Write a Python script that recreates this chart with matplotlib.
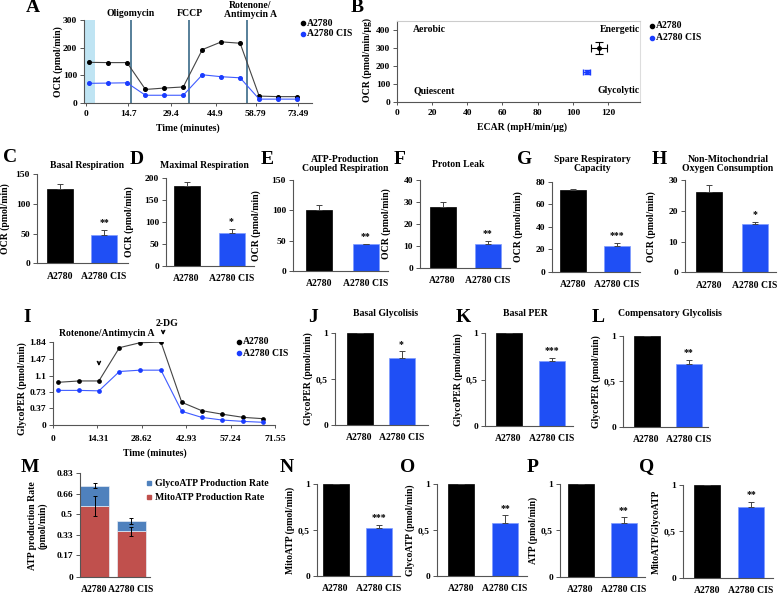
import matplotlib
matplotlib.use('Agg')
import matplotlib.pyplot as plt
from matplotlib.lines import Line2D

plt.rcParams['font.family'] = ['Liberation Serif', 'DejaVu Serif']
plt.rcParams['font.weight'] = 'bold'
plt.rcParams['axes.labelweight'] = 'bold'
plt.rcParams['font.size'] = 7

BLACK = '#000000'
BLUE = '#1F4FF5'
MITO_RED = '#C0504D'
GLYCO_BLUE = '#4F81BD'

# ---- data ----
groups = ['A2780', 'A2780 CIS']

# A: OCR time course
time_ocr = [1.0, 7.6, 14.2, 20.6, 27.1, 33.7, 40.3, 46.9, 53.4, 60.0, 66.6, 73.2]
ocr_a2780 = [147, 146, 146, 49, 54, 58, 193, 221, 216, 25, 23, 23]
ocr_cis = [71, 72, 73, 28, 28, 28, 102, 95, 91, 14, 14, 14]
ocr_injections = [15.6, 35.7, 55.8]
ocr_xticks = [0, 14.7, 29.4, 44.9, 58.79, 73.49]

# B: energy map
ecar_mean = [115, 108]
ecar_err = [4.7, 2.0]
ocr_norm_mean = [300, 168]
ocr_norm_err = [36, 10]

# C-H: mito stress parameters (A2780, A2780 CIS)
basal_resp = [126, 48]
basal_resp_err = [7, 8]
maximal_resp = [181, 75]
maximal_resp_err = [10, 10]
atp_coupled = [100, 44]
atp_coupled_err = [8, 1]
proton_leak = [27.5, 10.8]
proton_leak_err = [2.5, 1.5]
spare_capacity = [72.5, 23]
spare_capacity_err = [1, 3]
non_mito = [26.2, 15.7]
non_mito_err = [2.2, 0.6]

# I: GlycoPER time course
time_per = [1.7, 8.4, 14.8, 21.4, 28.0, 34.8, 41.5, 47.9, 54.6, 61.3, 67.8]
per_a2780 = [0.95, 0.98, 0.98, 1.72, 1.83, 1.845, 0.505, 0.32, 0.24, 0.17, 0.14]
per_cis = [0.77, 0.77, 0.76, 1.19, 1.22, 1.22, 0.305, 0.17, 0.11, 0.08, 0.06]
per_xticks = [0, 14.31, 28.62, 42.93, 57.24, 71.55]
per_yticks = [0, 0.37, 0.73, 1.1, 1.47, 1.84]

# J-L: normalised glycolysis
basal_glyco = [1, 0.73]
basal_glyco_err = [0, 0.07]
basal_per = [1, 0.70]
basal_per_err = [0, 0.03]
comp_glyco = [1, 0.69]
comp_glyco_err = [0, 0.045]

# M: ATP production rate
mito_atp_rate = [0.564, 0.362]
mito_atp_err = [0.08, 0.035]
glyco_atp_rate = [0.16, 0.083]
total_atp_err = [0.02, 0.027]
atp_yticks = [0, 0.17, 0.33, 0.5, 0.66, 0.83]

# N-Q: normalised ATP
mitoatp_norm = [1, 0.52]
mitoatp_norm_err = [0, 0.035]
glycoatp_norm = [1, 0.58]
glycoatp_norm_err = [0, 0.08]
atp_norm = [1, 0.575]
atp_norm_err = [0, 0.065]
ratio_norm = [1, 0.767]
ratio_norm_err = [0, 0.05]

# ---- layout helpers (pixel coordinates of the 778x594 canvas) ----
W, H = 778, 594
fig = plt.figure(figsize=(W / 100, H / 100), dpi=100)


def px_axes(l, t, r, b):
    return fig.add_axes([l / W, 1 - b / H, (r - l) / W, (b - t) / H])


def ftext(x, y, s, **kw):
    kw.setdefault('ha', 'center')
    kw.setdefault('va', 'center')
    fig.text(x / W, 1 - y / H, s, **kw)


def letter(x, y, s):
    ftext(x, y, s, fontsize=14)


def style(ax):
    for side in ['top', 'right']:
        ax.spines[side].set_visible(False)
    for side in ['left', 'bottom']:
        ax.spines[side].set_color('#555555')
        ax.spines[side].set_linewidth(0.8)
    ax.tick_params(axis='y', length=3, width=0.7, pad=2, labelsize=6.8, color='#555555')


def dot_legend(x, y, labels, colors, dy=11, fs=7):
    for i, (lab, c) in enumerate(zip(labels, colors)):
        fig.add_artist(Line2D([x / W], [1 - (y + i * dy) / H], marker='o', ms=3,
                              color=c, transform=fig.transFigure))
        ftext(x + 4, y + i * dy, lab, ha='left', fontsize=fs)


def bar_panel(spine, c1, c2, end, top, base, vals, errs, stars, ymax, yticks,
              yticklabels, ylabel, ylab_off=32, bar_px=26):
    ax = px_axes(spine, top, end, base)
    step = c2 - c1
    ax.set_xlim(-(c1 - spine) / step, 1 + (end - c2) / step)
    ax.set_ylim(0, ymax)
    ax.bar([0, 1], vals, width=bar_px / step, color=[BLACK, BLUE],
           edgecolor=[BLACK, '#7F9BFF'], linewidth=0.5)
    ax.errorbar([0, 1], vals, yerr=[[0, 0], errs], fmt='none', ecolor='#444444',
                elinewidth=0.7, capsize=2, capthick=0.7)
    ax.annotate(stars, (1, vals[1] + errs[1]), xytext=(0, 2), textcoords='offset points',
                ha='center', va='bottom', fontsize=7)
    style(ax)
    ax.set_xticks([0, 1])
    ax.set_xticklabels(groups, fontsize=7)
    ax.tick_params(axis='x', length=0, pad=6)
    ax.set_yticks(yticks)
    ax.set_yticklabels(yticklabels)
    ax.set_ylabel(ylabel, fontsize=7)
    ax.yaxis.set_label_coords(-ylab_off / (end - spine), 0.5)
    return ax


# ---- A ----
axA = px_axes(84, 20, 312, 103)
axA.set_xlim(-0.69, 78.3)
axA.set_ylim(0, 300)
axA.axvspan(-0.69, 3.1, color='#BFE4F3', lw=0)
for t in ocr_injections:
    axA.axvline(t, color='#3A6A88', lw=1.2)
axA.plot(time_ocr, ocr_a2780, color='#444444', lw=0.8, marker='o', ms=2.6, mfc=BLACK, mec=BLACK)
axA.plot(time_ocr, ocr_cis, color='#3F5BFF', lw=0.8, marker='o', ms=2.6, mfc='#1A3CFF', mec='#1A3CFF')
style(axA)
axA.set_yticks([0, 100, 200, 300])
axA.set_xticks(ocr_xticks)
axA.set_xticklabels([str(v) for v in ocr_xticks])
axA.tick_params(axis='x', length=2, width=0.7, labelsize=6.8, pad=3, color='#555555')
letter(33, 7, 'A')
ftext(131, 13, 'Oligomycin', fontsize=7)
ftext(190, 13, 'FCCP', fontsize=7)
ftext(250, 10, 'Rotenone/\nAntimycin A', fontsize=7, linespacing=1.0)
ftext(58, 62, 'OCR (pmol/min)', rotation=90, fontsize=7)
ftext(188, 128, 'Time (minutes)', fontsize=7)
dot_legend(303, 23, groups, [BLACK, '#1A3CFF'])

# ---- B ----
axB = px_axes(397, 21, 640, 102)
axB.set_xlim(0, 138.2)
axB.set_ylim(0, 450)
axB.errorbar(ecar_mean[0], ocr_norm_mean[0], xerr=ecar_err[0], yerr=ocr_norm_err[0], fmt='o',
             color=BLACK, ms=2.5, capsize=3, elinewidth=0.8, capthick=0.8)
axB.errorbar(ecar_mean[1], ocr_norm_mean[1], xerr=ecar_err[1], yerr=ocr_norm_err[1], fmt='o',
             color='#1A3CFF', ms=2.5, capsize=2, elinewidth=1.0, capthick=1.0)
style(axB)
axB.spines['top'].set_visible(True)
axB.spines['top'].set_color('#CCCCCC')
axB.spines['right'].set_visible(True)
axB.spines['right'].set_color('#DDDDDD')
axB.set_xticks(range(0, 140, 20))
axB.set_yticks(range(0, 500, 100))
axB.tick_params(axis='x', length=2, width=0.7, labelsize=6.8, pad=3, color='#555555')
axB.text(0.066, 0.90, 'Aerobic', transform=axB.transAxes, ha='left', va='center', fontsize=7)
axB.text(1.0, 0.89, 'Energetic', transform=axB.transAxes, ha='right', va='center', fontsize=7)
axB.text(0.066, 0.14, 'Quiescent', transform=axB.transAxes, ha='left', va='center', fontsize=7)
axB.text(1.0, 0.14, 'Glycolytic', transform=axB.transAxes, ha='right', va='center', fontsize=7)
letter(357, 7, 'B')
ftext(367, 60, 'OCR (pmol/min/µg)', rotation=90, fontsize=7)
ftext(522, 127, 'ECAR (mpH/min/µg)', fontsize=7)
dot_legend(652, 26, groups, [BLACK, '#1A3CFF'], dy=12)

# ---- C-H ----
bar_panel(37, 60, 104, 128, 174.3, 263.3, basal_resp, basal_resp_err, '**', 150,
          [0, 50, 100, 150], ['0', '50', '100', '150'], 'OCR (pmol/min)', ylab_off=27)
letter(10, 158, 'C')
ftext(87, 165, 'Basal Respiration')

bar_panel(166, 186.5, 231.5, 254, 178, 266, maximal_resp, maximal_resp_err, '*', 200,
          [0, 50, 100, 150, 200], ['0', '50', '100', '150', '200'], 'OCR (pmol/min)')
letter(137, 160, 'D')
ftext(204, 165, 'Maximal Respiration')

bar_panel(293, 319, 365.5, 388, 180, 271, atp_coupled, atp_coupled_err, '**', 150,
          [0, 50, 100, 150], ['0', '50', '100', '150'], 'OCR (pmol/min)')
letter(267, 160, 'E')
ftext(345, 164, 'ATP-Production\nCoupled Respiration', linespacing=1.1)

bar_panel(420, 442.5, 487.5, 510, 180, 268, proton_leak, proton_leak_err, '**', 40,
          [0, 10, 20, 30, 40], ['0', '10', '20', '30', '40'], 'OCR (pmol/min)', ylab_off=29)
letter(400, 160, 'F')
ftext(458, 164, 'Proton Leak')

bar_panel(552, 573, 617, 640, 182, 271.7, spare_capacity, spare_capacity_err, '***', 80,
          [0, 20, 40, 60, 80], ['0', '20', '40', '60', '80'], 'OCR (pmol/min)', ylab_off=29)
letter(525, 160, 'G')
ftext(592, 164, 'Spare Respiratory\nCapacity', linespacing=1.1)

bar_panel(685, 709, 755, 776, 180, 272.3, non_mito, non_mito_err, '*', 30,
          [0, 10, 20, 30], ['0', '10', '20', '30'], 'OCR (pmol/min)', ylab_off=29)
letter(659, 160, 'H')
ftext(728, 164, 'Non-Mitochondrial\nOxygen Consumption', linespacing=1.1)

# ---- I ----
axI = px_axes(53, 342.3, 275, 425)
axI.set_xlim(0, 71.55)
axI.set_ylim(0, 1.84)
axI.plot(time_per, per_a2780, color='#444444', lw=0.8, marker='o', ms=2.4, mfc=BLACK, mec=BLACK)
axI.plot(time_per, per_cis, color='#3F5BFF', lw=0.8, marker='o', ms=2.4, mfc='#1A3CFF', mec='#1A3CFF')
style(axI)
axI.set_xticks(per_xticks)
axI.set_xticklabels([str(v) for v in per_xticks])
axI.set_yticks(per_yticks)
axI.set_yticklabels([str(v) for v in per_yticks])
axI.tick_params(axis='x', length=2, width=0.7, labelsize=6.8, pad=5, color='#555555')
axI.annotate('', xy=(14.8, 1.25), xytext=(14.8, 1.47),
             arrowprops=dict(arrowstyle='->', lw=0.9, color=BLACK, mutation_scale=6))
axI.annotate('', xy=(35.5, 1.94), xytext=(35.5, 2.16), annotation_clip=False,
             arrowprops=dict(arrowstyle='->', lw=0.9, color=BLACK, mutation_scale=6))
letter(27, 317, 'I')
ftext(107, 334, 'Rotenone/Antimycin A')
ftext(167, 323, '2-DG')
ftext(22, 389, 'GlycoPER (pmol/min)', rotation=90)
ftext(155, 453, 'Time (minutes)')
dot_legend(239, 342, groups, [BLACK, '#1A3CFF'], dy=11)

# ---- J-L ----
norm_ticks = [0, 0.5, 1]
norm_labels = ['0', '0,5', '1']
bar_panel(335, 359.5, 401.5, 428, 333, 425, basal_glyco, basal_glyco_err, '*', 1,
          norm_ticks, norm_labels, 'GlycoPER (pmol/min)', ylab_off=22)
letter(313, 317, 'J')
ftext(386, 313, 'Basal Glycolisis')

bar_panel(485, 508.5, 551.5, 573, 333, 426, basal_per, basal_per_err, '***', 1,
          norm_ticks, norm_labels, 'GlycoPER (pmol/min)', ylab_off=22)
letter(463, 317, 'K')
ftext(525, 313, 'Basal PER')

bar_panel(623, 646.5, 688.5, 708, 336, 426.7, comp_glyco, comp_glyco_err, '**', 1,
          norm_ticks, norm_labels, 'GlycoPER (pmol/min)', ylab_off=22)
letter(598, 317, 'L')
ftext(670, 313, 'Compensatory Glycolisis')

# ---- M ----
axM = px_axes(80, 472.7, 150, 576.7)
stepM = 131 - 94.5
axM.set_xlim(-14.5 / stepM, 1 + 19 / stepM)
axM.set_ylim(0, 0.83)
total_atp = [m + g for m, g in zip(mito_atp_rate, glyco_atp_rate)]
axM.bar([0, 1], mito_atp_rate, width=29 / stepM, color=MITO_RED, edgecolor='#E6ECF5', linewidth=0.5)
axM.bar([0, 1], glyco_atp_rate, bottom=mito_atp_rate, width=29 / stepM, color=GLYCO_BLUE,
        edgecolor='#E6ECF5', linewidth=0.5)
axM.errorbar([0, 1], mito_atp_rate, yerr=mito_atp_err, fmt='none', ecolor=BLACK,
             elinewidth=0.7, capsize=1.5, capthick=0.7)
axM.errorbar([0, 1], total_atp, yerr=total_atp_err, fmt='none', ecolor=BLACK,
             elinewidth=0.7, capsize=1.5, capthick=0.7)
style(axM)
axM.set_xticks([0, 1])
axM.set_xticklabels(groups, fontsize=7)
axM.tick_params(axis='x', length=0, pad=6)
axM.set_yticks(atp_yticks)
axM.set_yticklabels([str(v) for v in atp_yticks])
letter(30, 467, 'M')
ftext(38, 526, 'ATP production Rate\n(pmol/min)', rotation=90, linespacing=1.2)
for i, (lab, c) in enumerate([('GlycoATP Production Rate', GLYCO_BLUE),
                              ('MitoATP Production Rate', MITO_RED)]):
    fig.add_artist(Line2D([149 / W], [1 - (483 + i * 14) / H], marker='s', ms=3.5,
                          color=c, transform=fig.transFigure))
    ftext(155, 483 + i * 14, lab, ha='left')

# ---- N-Q ----
bar_panel(317, 335.5, 379, 400, 484.3, 575.7, mitoatp_norm, mitoatp_norm_err, '***', 1,
          norm_ticks, norm_labels, 'MitoATP (pmol/min)', ylab_off=22)
letter(287, 467, 'N')

bar_panel(437, 461, 505, 527, 484.3, 576, glycoatp_norm, glycoatp_norm_err, '**', 1,
          norm_ticks, norm_labels, 'GlycoATP (pmol/min)', ylab_off=22)
letter(408, 467, 'O')

bar_panel(560, 580.5, 623.5, 645, 484, 576.7, atp_norm, atp_norm_err, '**', 1,
          norm_ticks, norm_labels, 'ATP (pmol/min)', ylab_off=22)
letter(533, 467, 'P')

bar_panel(683, 707, 751, 773, 485, 577.7, ratio_norm, ratio_norm_err, '**', 1,
          norm_ticks, norm_labels, 'MitoATP/GlycoATP', ylab_off=22)
letter(647, 467, 'Q')

fig.savefig('out.png', dpi=100)
